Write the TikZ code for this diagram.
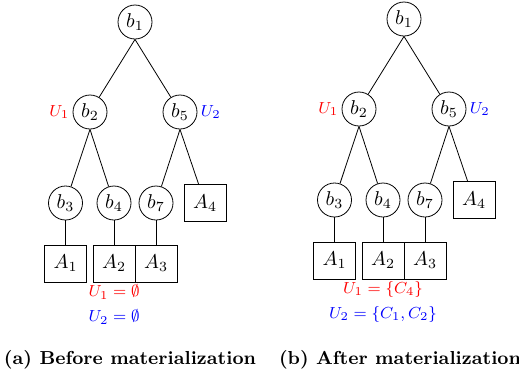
\documentclass[tikz,border=0pt]{standalone}

\begin{document}
\begin{tikzpicture}[x = 0.5pt, y = -0.5pt,
  blk/.style = {draw, circle, minimum size = 17pt, inner sep = 0pt},
  leaf/.style = {draw, rectangle, minimum width = 21pt,
    minimum height = 18.5pt, inner sep = 0pt},
  ulbl/.style = {font = \footnotesize, inner sep = 1.5pt},
  capt/.style = {font = \fontsize{9.4}{12}\selectfont\bfseries}]
  \useasboundingbox (0, 0) rectangle (519, 377);

  \foreach \p/\dx/\dy/\ua/\ub in {a/0/0/{\emptyset}/{\emptyset},
    b/269/-3/{\{C_4\}}/{\{C_1, C_2\}}}{
    \begin{scope}[shift = {(\dx, \dy)}]
      \node[blk] (b1\p) at (135, 22) {$b_1$};
      \node[blk] (b2\p) at (90, 112) {$b_2$};
      \node[blk] (b5\p) at (180, 112) {$b_5$};
      \node[blk] (b3\p) at (65.5, 203) {$b_3$};
      \node[blk] (b4\p) at (114, 203) {$b_4$};
      \node[blk] (b7\p) at (156, 203) {$b_7$};
      \node[leaf] (A4\p) at (205, 203) {$A_4$};
      \node[leaf] (A1\p) at (65.5, 263.5) {$A_1$};
      \node[leaf] (A2\p) at (114, 263.5) {$A_2$};
      \node[leaf] (A3\p) at (156, 263.5) {$A_3$};

      \foreach \u/\v in {b1/b2, b1/b5, b2/b3, b2/b4, b5/b7, b5/A4,
        b3/A1, b4/A2, b7/A3}{
        \draw (\u\p.south) -- (\v\p);
      }

      \node[ulbl, text = red, anchor = east] (u1\p) at (b2\p.west) {$U_1$};
      \node[ulbl, text = blue, anchor = west] (u2\p) at (b5\p.east) {$U_2$};
      \node[ulbl, text = red] (s1\p) at (114, 292) {$U_1 = \ua$};
      \node[ulbl, text = blue] (s2\p) at (114, 317) {$U_2 = \ub$};
    \end{scope}
  }

  \node[capt] (capa) at (130, 360) {(a) Before materialization};
  \node[capt] (capb) at (400, 360) {(b) After materialization};
\end{tikzpicture}
\end{document}
